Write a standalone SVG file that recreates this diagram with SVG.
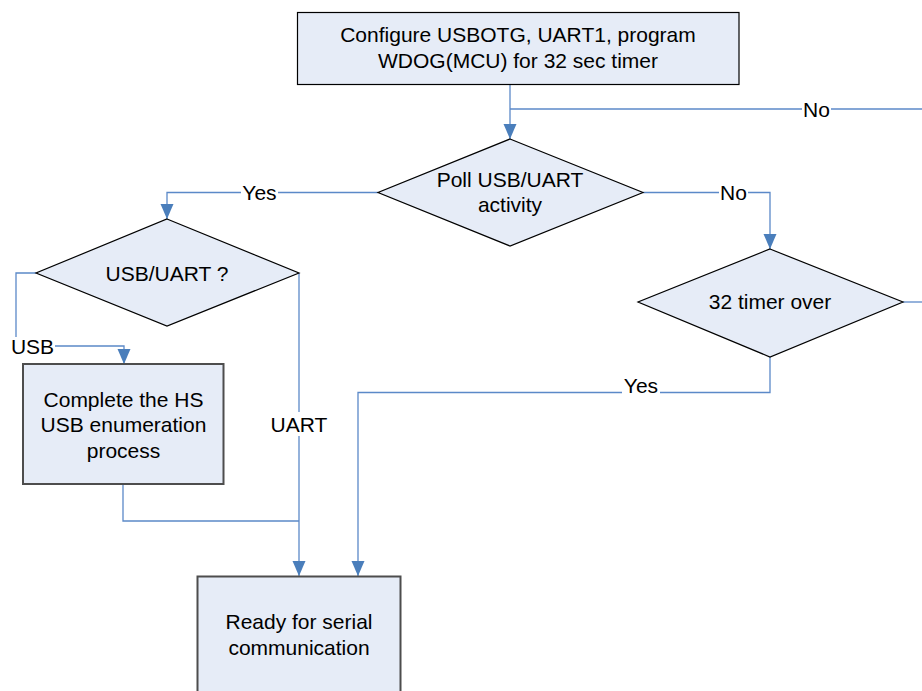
<svg xmlns="http://www.w3.org/2000/svg" width="922" height="691" viewBox="0 0 922 691">
  <style>
    .proc { fill: #e6ecf7; stroke: #000000; stroke-width: 1.2; }
    .proc2 { fill: #e6ecf7; stroke: #4d4d4d; stroke-width: 2; }
    .dec { fill: #e6ecf7; stroke: #000000; stroke-width: 1.2; }
    .txt { font-family: "Liberation Sans", Arial, sans-serif; font-size: 21px; fill: #000000; text-anchor: middle; }
    .conn { fill: none; stroke: #5b89c8; stroke-width: 1.3; }
    .lbl-bg { fill: #ffffff; }
  </style>
  <defs>
    <marker id="arrow" markerUnits="userSpaceOnUse" markerWidth="15" markerHeight="14" refX="15" refY="7" orient="auto">
      <path d="M0,0.5 L15,7 L0,13.5 z" fill="#4a7ebb"/>
    </marker>
  </defs>

  <!-- connectors -->
  <g id="connectors">
    <!-- configure -> poll -->
    <path class="conn" d="M510,85 L510,139" marker-end="url(#arrow)"/>
    <!-- loop back from timer (continues off to the right) -->
    <path class="conn" d="M510,109 L922,109"/>
    <!-- poll Yes -> USB/UART ? -->
    <path class="conn" d="M378,192.5 L167,192.5 L167,219" marker-end="url(#arrow)"/>
    <!-- poll No -> 32 timer over -->
    <path class="conn" d="M643,192.5 L770,192.5 L770,249" marker-end="url(#arrow)"/>
    <!-- timer over: No (continues off to the right) -->
    <path class="conn" d="M903,302 L922,302"/>
    <!-- USB branch -->
    <path class="conn" d="M36,273 L16,273 L16,346 L124,346 L124,364" marker-end="url(#arrow)"/>
    <!-- UART branch -->
    <path class="conn" d="M299,273 L299,576" marker-end="url(#arrow)"/>
    <!-- enumeration done -> ready -->
    <path class="conn" d="M123,484 L123,521 L299,521"/>
    <!-- timer over Yes -> ready -->
    <path class="conn" d="M770,357 L770,392.5 L358,392.5 L358,576" marker-end="url(#arrow)"/>

    <!-- labels -->
    <rect class="lbl-bg" x="802" y="100" width="29" height="18"/>
    <text class="txt" x="816.5" y="116.5">No</text>
    <rect class="lbl-bg" x="241" y="183" width="37" height="18"/>
    <text class="txt" x="259.5" y="199.5">Yes</text>
    <rect class="lbl-bg" x="719" y="183" width="29" height="18"/>
    <text class="txt" x="733.5" y="200">No</text>
    <rect class="lbl-bg" x="10" y="337" width="45" height="18"/>
    <text class="txt" x="32.5" y="353.5">USB</text>
    <rect class="lbl-bg" x="268" y="412" width="62" height="24"/>
    <text class="txt" x="299" y="431.5">UART</text>
    <rect class="lbl-bg" x="622" y="378" width="38" height="16"/>
    <text class="txt" x="641" y="392.5">Yes</text>
  </g>

  <g id="configure">
    <rect class="proc" x="297.5" y="12.5" width="441.5" height="72"/>
    <text class="txt" x="518" y="41.5">Configure USBOTG, UART1, program</text>
    <text class="txt" x="518" y="68">WDOG(MCU) for 32 sec timer</text>
  </g>

  <g id="poll">
    <polygon class="dec" points="510,139 643,192.5 510,246 378,192.5"/>
    <text class="txt" x="510" y="187">Poll USB/UART</text>
    <text class="txt" x="510" y="212">activity</text>
  </g>

  <g id="usb-or-uart">
    <polygon class="dec" points="167,219 299,273 167,326 36,273"/>
    <text class="txt" x="167" y="280.5">USB/UART ?</text>
  </g>

  <g id="timer-over">
    <polygon class="dec" points="770,249 903,302 770,357 638,302"/>
    <text class="txt" x="770" y="309">32 timer over</text>
  </g>

  <g id="enumeration">
    <rect class="proc2" x="23" y="364" width="200.5" height="120"/>
    <text class="txt" x="123.5" y="406.5">Complete the HS</text>
    <text class="txt" x="123.5" y="432">USB enumeration</text>
    <text class="txt" x="123.5" y="457.5">process</text>
  </g>

  <g id="ready">
    <rect class="proc2" x="197.5" y="576.5" width="203" height="120"/>
    <text class="txt" x="299" y="628.5">Ready for serial</text>
    <text class="txt" x="299" y="654.5">communication</text>
  </g>
</svg>
